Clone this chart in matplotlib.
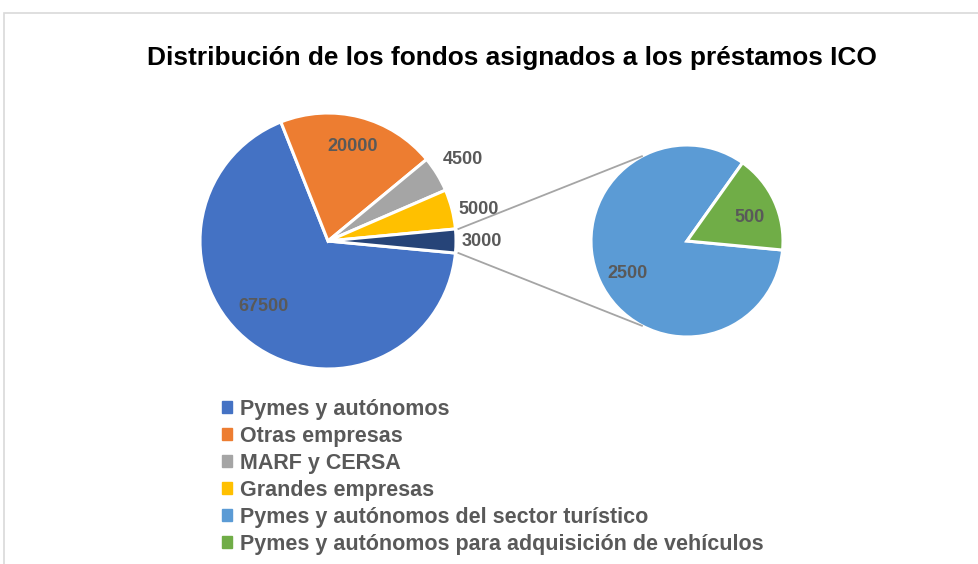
import numpy as np
import matplotlib
matplotlib.use("Agg")
import matplotlib.pyplot as plt
from matplotlib.patches import Patch, Rectangle

# ---------------- data ----------------
main_labels = ["Pymes y autónomos", "Otras empresas", "MARF y CERSA", "Grandes empresas"]
main_values = [67500, 20000, 4500, 5000]
sec_labels = ["Pymes y autónomos del sector turístico",
              "Pymes y autónomos para adquisición de vehículos"]
sec_values = [2500, 500]

main_colors = ["#4472C4", "#ED7D31", "#A5A5A5", "#FFC000"]
other_color = "#264478"
sec_colors = ["#5B9BD5", "#70AD47"]

plt.rcParams["font.family"] = ["Liberation Sans", "DejaVu Sans"]
txt = "#595959"

fig = plt.figure(figsize=(9.79, 5.64), dpi=100)
ax = fig.add_axes([0, 0, 1, 1])

# chart frame (only top/left edges visible)
fig.patches.append(Rectangle((4 / 979, -0.1), 2, (564 - 13) / 564 + 0.1, transform=fig.transFigure,
                             fill=False, ec="#D9D9D9", lw=1.2))

# ---------------- main pie ----------------
other = sum(sec_values)
vals = main_values + [other]
total = sum(vals)
half = other / total * 180
c1, r1 = (328, 323), 128
w1, _ = ax.pie(vals, colors=main_colors + [other_color], center=c1, radius=r1,
               startangle=-half, counterclock=False, frame=True,
               wedgeprops=dict(edgecolor="white", linewidth=2.2))

# ---------------- secondary pie ----------------
c2, r2 = (687, 323), 96
w2, _ = ax.pie(sec_values, colors=sec_colors, center=c2, radius=r2,
               startangle=-half, counterclock=False, frame=True,
               wedgeprops=dict(edgecolor="white", linewidth=2.2))
ax.set_xlim(0, 979)
ax.set_ylim(0, 564)
ax.set_aspect("equal")
ax.axis("off")

# label placement: (radius factor, angle shift)
main_pos = [(0.72, -7.7), (0.76, -0.5), (1.23, -0.5), (1.20, -2.4), (1.20, 0)]
sec_pos = [(0.70, 3.9), (0.70, -3.7)]


def put_labels(wedges, values, pos, c, r):
    for w, v, (f, dt) in zip(wedges, values, pos):
        a = np.deg2rad((w.theta1 + w.theta2) / 2 + dt)
        ax.text(c[0] + f * r * np.cos(a), c[1] + f * r * np.sin(a), str(v),
                ha="center", va="center", fontsize=13, fontweight="bold", color=txt)


put_labels(w1, vals, main_pos, c1, r1)
put_labels(w2, sec_values, sec_pos, c2, r2)

# connector lines
a1 = np.deg2rad(half)
a2 = np.deg2rad(118)
for s in (1, -1):
    ax.plot([c1[0] + r1 * np.cos(a1) + 3, c2[0] + r2 * np.cos(a2)],
            [c1[1] + s * (r1 * np.sin(a1)), c2[1] + s * r2 * np.sin(a2)],
            color="#A5A5A5", lw=1.3)

ax.text(512, 564 - 58, "Distribución de los fondos asignados a los préstamos ICO",
        ha="center", va="center", fontsize=18.9, fontweight="bold", color="black")

handles = [Patch(color=col) for col in main_colors + sec_colors]
leg = ax.legend(handles, main_labels + sec_labels, loc="upper left",
                bbox_to_anchor=(222.5 / 979, 1 - 398.5 / 564), frameon=False,
                prop=dict(size=15.5, weight="bold"), labelcolor=txt,
                handlelength=0.44, handleheight=0.44, handletextpad=0.37,
                labelspacing=0.28, borderpad=0, borderaxespad=0)

fig.savefig("out.png", dpi=100)
